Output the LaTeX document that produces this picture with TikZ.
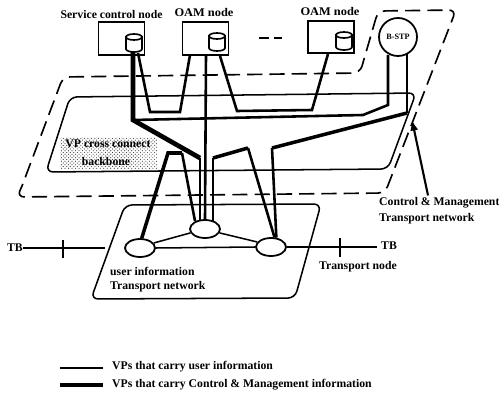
\documentclass[tikz,border=0pt]{standalone}
\usepackage{fontspec}
\setmainfont{Liberation Serif}
\usetikzlibrary{shapes.geometric,patterns,arrows.meta}
\tikzset{
 lab/.style={font=\bfseries\fontsize{10}{12}\selectfont,inner sep=0pt},
 boxn/.style={draw,line width=1.5pt,fill=white,minimum width=1.38cm,minimum height=0.98cm,inner sep=0pt},
 cylw/.style={line width=1.4pt,fill=white},
 trans/.style={draw,line width=1.5pt,fill=white,shape=ellipse,minimum width=0.9cm,minimum height=0.54cm,inner sep=0pt},
 thinl/.style={line width=1.3pt},
 midl/.style={line width=2.2pt,line join=miter},
 thickl/.style={line width=3pt,line join=miter},
 trunk/.style={line width=4pt,line join=miter},
 dashl/.style={line width=1.4pt,dash pattern=on 13pt off 6pt,rounded corners=6pt},
}
\newcommand{\dbcyl}[3]{%
 \path[cylw,draw] (#2-8,#3-6) -- (#2-8,#3+6) arc[start angle=180,end angle=360,x radius=8,y radius=-3] -- (#2+8,#3-6) -- cycle;
 \draw[cylw] (#2,#3-6) ellipse[x radius=8,y radius=3];
 \node[inner sep=0pt,minimum width=0.48cm,minimum height=0.54cm] (#1) at (#2,#3) {};
}
\begin{document}
\begin{tikzpicture}[x=0.03cm,y=-0.03cm]
\useasboundingbox (0,0) rectangle (499,395);
% networks
\draw[dashl] (22,186) -- (17,197) -- (385,193) -- (456,10) -- (378,11) -- (360,73) -- (63,77) -- (22,186);
\fill[pattern=crosshatch dots,pattern color=black!75] (60,137) rectangle (157,168);
\draw[thinl,rounded corners=6pt] (46,172) -- (70,97) -- (416,93) -- (388,169) -- cycle;
\draw[thinl,rounded corners=6pt] (125,205) -- (321,204) -- (295,298) -- (91,299) -- cycle;
% nodes
\node[boxn] (sc) at (121.5,38.5) {};
\node[boxn] (oam1) at (205.5,38.5) {};
\node[boxn] (oam2) at (331,37) {};
\dbcyl{c1}{134}{43}
\dbcyl{c2}{217}{42}
\dbcyl{c3}{344}{41}
\node[draw,line width=1.5pt,fill=white,circle,minimum size=1.14cm,inner sep=0pt] (stp) at (398,37) {};
\node[font=\bfseries\fontsize{7}{8}\selectfont,inner sep=0pt] at (stp) {B-STP};
\node[trans] (e1) at (140,248) {};
\node[trans] (e2) at (205,229) {};
\node[trans] (e3) at (271,247) {};
% junctions
\coordinate (ua) at (150,112);
\coordinate (ub) at (180,112);
\coordinate (va) at (237,111);
\coordinate (vb) at (312,110);
\coordinate (h1) at (133,120);
\coordinate (h2) at (363,115);
\coordinate (h3) at (388,105);
\coordinate (d1) at (200,158);
\coordinate (d2) at (200,221);
\coordinate (t1) at (168,153);
\coordinate (t2) at (182,153);
\coordinate (t3) at (195,221);
\coordinate (r1) at (213,158);
\coordinate (r2) at (248,148);
\coordinate (r0) at (213,221);
\coordinate (f1) at (272,148);
\coordinate (f2) at (407,113);
\coordinate (m1) at (206,55);
\coordinate (s1) at (138,53);
\coordinate (s0) at (133,52);
\coordinate (o1) at (190,55);
\coordinate (o2) at (220,56);
\coordinate (o3) at (328,54);
\coordinate (b1) at (388,55);
\coordinate (b2) at (407,54);
% control and management VPs
\draw[trunk] (s0) -- (h1) -- (d1);
\draw[midl] (d1) -- (d2);
\draw[midl] (s1) -- (ua) -- (ub) -- (o1);
\draw[midl] (o2) -- (va) -- (vb) -- (o3);
\draw[midl] (h1) -- (h2) -- (h3) -- (b1);
\draw[midl] (b2) -- (f2);
\draw[thickl] (f2) -- (f1);
\draw[midl] (f1) -- (e3.60);
\draw[midl] (m1) -- (e2.north);
\draw[thickl] (e1.80) -- (t1) -- (t2);
\draw[midl] (t2) -- (t3);
\draw[midl] (r0) -- (r1);
\draw[thickl] (r1) -- (r2);
\draw[midl] (r2) -- (e3.70);
% user VPs
\draw[thinl] (e1.20) -- (e2.195);
\draw[thinl] (e2.345) -- (e3.160);
\draw[thinl] (e1.east) -- (e3.west);
\coordinate (tbl) at (105,248);
\coordinate (tbr) at (377,247);
\node[lab,anchor=east] (tb1) at (23,248) {TB};
\node[lab,anchor=west] (tb2) at (381,246) {TB};
\draw[thinl] (tb1.east) -- (tbl);
\draw[thinl] (e3.east) -- (tbr);
\draw[thinl] (63,240) -- (63,258);
\draw[thinl] (340,238) -- (340,257);
% labels
\node[lab] at (111.5,14) {Service control node};
\node[lab] at (204,12) {\scalebox{1.06}[1]{OAM node}};
\node[lab] at (330,11) {\scalebox{1.06}[1]{OAM node}};
\node[lab] at (108,144) {VP cross connect};
\node[lab] at (106,161) {backbone};
\node[lab,anchor=west] (cm) at (379,203) {Control \& Management};
\node[lab,anchor=west] at (379,219) {Transport network};
\node[lab] at (358,267) {Transport node};
\node[lab,anchor=west] at (110,271) {user information};
\node[lab,anchor=west] at (110,287) {Transport network};
\coordinate (ar) at (412,120);
\draw[line width=1.8pt,-{Latex[length=9pt,width=7pt]}] (cm.north west) ++(49,-2) -- (ar);
\draw[line width=1.8pt] (259,38) -- (269,38) (274,38) -- (282,38);
% legend
\coordinate (l1) at (60,368);
\coordinate (l2) at (60,385);
\coordinate (l1e) at (103,368);
\coordinate (l2e) at (103,385);
\node[lab,anchor=west] (t1l) at (112,367) {VPs that carry user information};
\node[lab,anchor=west] (t2l) at (112,385) {VPs that carry Control \& Management information};
\draw[thinl] (l1) -- (l1e);
\draw[line width=3pt] (l2) -- (l2e);
\end{tikzpicture}
\end{document}
